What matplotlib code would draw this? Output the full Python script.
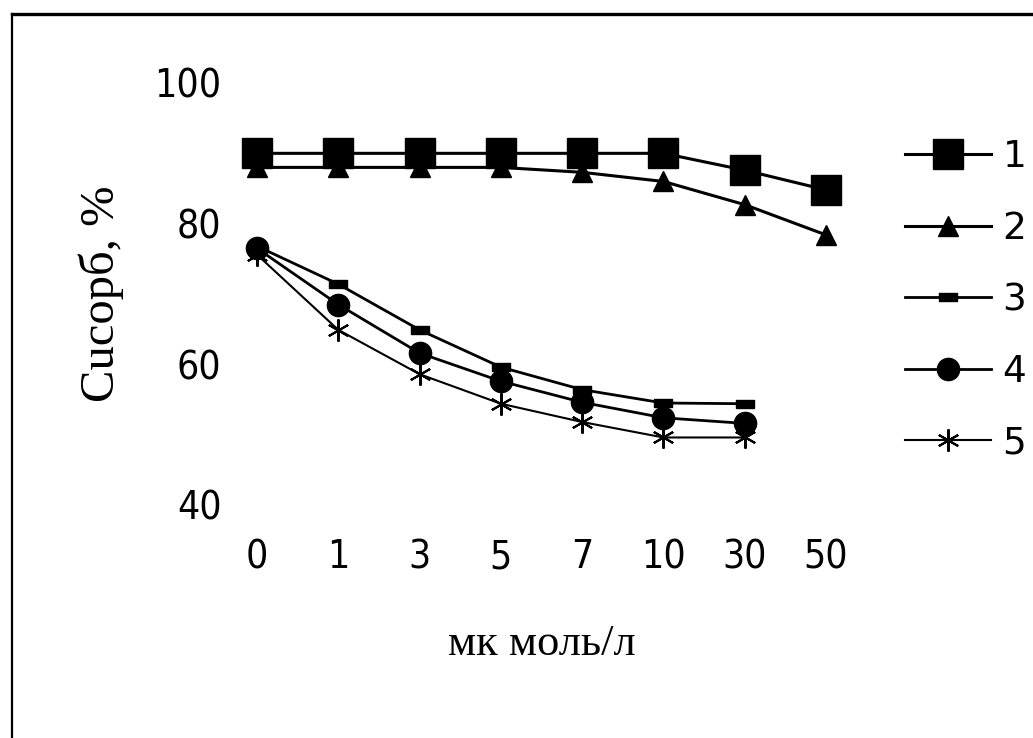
import numpy as np
import matplotlib
matplotlib.use('Agg')
import matplotlib.pyplot as plt
from matplotlib.lines import Line2D
from matplotlib.path import Path

# categories on the x axis (micromol/l)
conc = ['0', '1', '3', '5', '7', '10', '30', '50']

# sorbed Cu, %
s1 = [90.0, 90.0, 90.0, 90.0, 90.0, 90.0, 87.6, 84.8]
s2 = [88.0, 88.0, 88.0, 88.0, 87.3, 86.0, 82.7, 78.4]
s3 = [76.8, 71.4, 64.9, 59.6, 56.4, 54.5, 54.4]
s4 = [76.5, 68.5, 61.6, 57.6, 54.6, 52.4, 51.6]
s5 = [75.6, 64.9, 58.6, 54.4, 51.8, 49.6, 49.6]
labels = ['1', '2', '3', '4', '5']

dash = Path([(-1, -0.45), (1, -0.45), (1, 0.45), (-1, 0.45), (-1, -0.45)],
            [Path.MOVETO, Path.LINETO, Path.LINETO, Path.LINETO, Path.CLOSEPOLY])

fig = plt.figure(figsize=(10.33, 7.38), dpi=100)
ax = fig.add_axes([232.6 / 1033, 233 / 738, (850.4 - 232.6) / 1033, 422 / 738])

x = np.arange(len(conc))
styles = [
    dict(marker='s', ms=21, lw=2.2),
    dict(marker='^', ms=15, lw=2.2),
    dict(marker=dash, ms=13, lw=2.0),
    dict(marker='o', ms=16, lw=2.0),
    dict(marker=(6, 2, 0), ms=16, lw=1.5, mew=1.5),
]
for ys, st, lab in zip([s1, s2, s3, s4, s5], styles, labels):
    ax.plot(x[:len(ys)], ys, color='black', mfc='black', mec='black',
            clip_on=False, label=lab, **st)

ax.set_xlim(-0.3, 7.3)
ax.set_ylim(40, 100)
ax.set_yticks([40, 60, 80, 100])
ax.set_xticks(x)
ax.set_xticklabels(conc)
for sp in ax.spines.values():
    sp.set_visible(False)
ax.tick_params(length=0, labelsize=28, pad=8)
ax.tick_params(axis='x', pad=24)
for t in ax.get_xticklabels() + ax.get_yticklabels():
    t.set_family(['DejaVu Sans'])
    t.set_stretch('condensed')

ax.set_xlabel('мк моль/л', family='Liberation Serif', fontsize=32, labelpad=34)
ax.set_ylabel('Cuсорб, %', family='Liberation Serif', fontsize=35, labelpad=22)

leg = ax.legend(loc='upper left', bbox_to_anchor=(905 / 1033, 1 - 139 / 738),
                bbox_transform=fig.transFigure, frameon=False,
                prop={'family': 'DejaVu Sans', 'size': 27},
                handlelength=2.3, handletextpad=0.3, labelspacing=0.95,
                borderpad=0, borderaxespad=0)

# border of the scanned frame
fig.add_artist(Line2D([12 / 1033, 1], [1 - 14 / 738, 1 - 14 / 738],
                      color='black', lw=2.4, transform=fig.transFigure))
fig.add_artist(Line2D([12 / 1033, 12 / 1033], [0, 1 - 14 / 738],
                      color='black', lw=1.6, transform=fig.transFigure))

fig.savefig('out.png', dpi=100)
